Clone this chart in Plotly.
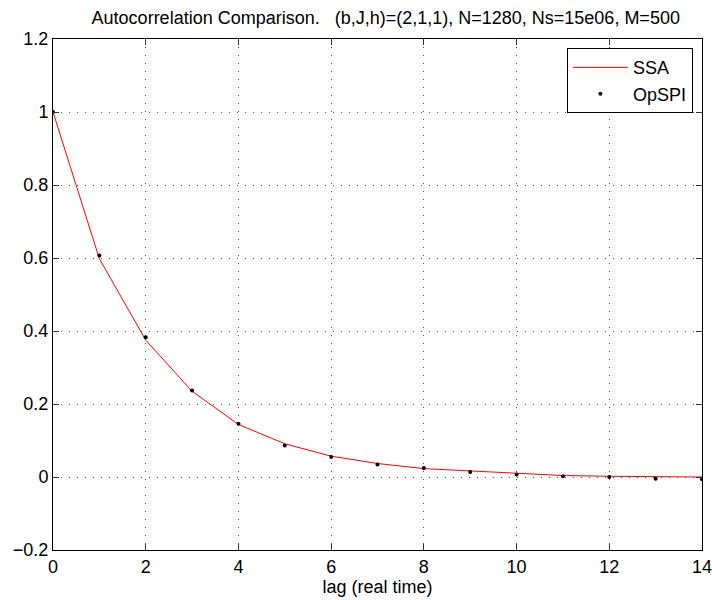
import plotly.graph_objects as go

lags = list(range(15))
ssa = [1.0, 0.598, 0.375, 0.235, 0.144, 0.091, 0.057, 0.037, 0.023, 0.016, 0.009, 0.004, 0.002, 0.001, 0.0]
opspi = [1.0, 0.607, 0.383, 0.237, 0.146, 0.086, 0.055, 0.034, 0.025, 0.014, 0.007, 0.002, 0.0, -0.005, -0.006]
x_ticks = [0, 2, 4, 6, 8, 10, 12, 14]
y_ticks = [-0.2, 0, 0.2, 0.4, 0.6, 0.8, 1, 1.2]
y_tick_text = ["\u22120.2", "0", "0.2", "0.4", "0.6", "0.8", "1", "1.2"]

font = "Liberation Sans, Arial, Helvetica, sans-serif"

fig = go.Figure()
fig.add_trace(go.Scatter(x=lags, y=ssa, mode="lines", name="SSA",
                         line=dict(color="#ff0000", width=1)))
fig.add_trace(go.Scatter(x=lags, y=opspi, mode="markers", name="OpSPI",
                         marker=dict(color="black", size=4)))

axis_common = dict(showline=True, linecolor="black", linewidth=1, mirror="ticks",
                   ticks="inside", ticklen=6, tickcolor="#333333",
                   showgrid=True, gridcolor="#555555", griddash="1px,7px", gridwidth=1,
                   zeroline=False, automargin=False, ticklabeloverflow="allow",
                   tickfont=dict(family=font, size=18, color="black"))

fig.update_xaxes(range=[0, 14], tickvals=x_ticks,
                 title=dict(text="lag (real time)", font=dict(family=font, size=18, color="black"), standoff=0),
                 **axis_common)
fig.update_yaxes(range=[-0.2, 1.2], tickvals=y_ticks, ticktext=y_tick_text, **axis_common)

fig.update_layout(
    width=712, height=600,
    margin=dict(l=53, r=10, t=39, b=50),
    paper_bgcolor="white", plot_bgcolor="white",
    title=dict(text="Autocorrelation Comparison.   (b,J,h)=(2,1,1), N=1280, Ns=15e06, M=500",
               x=0.5418, xanchor="center", y=0.9705, yanchor="middle",
               font=dict(family=font, size=18, color="black")),
    legend=dict(x=0.986, y=0.982, xanchor="right", yanchor="top",
                bgcolor="white", bordercolor="black", borderwidth=1,
                font=dict(family=font, size=18, color="black"),
                itemwidth=55, tracegroupgap=0),
    font=dict(family=font),
)

fig.write_html("out.html")
